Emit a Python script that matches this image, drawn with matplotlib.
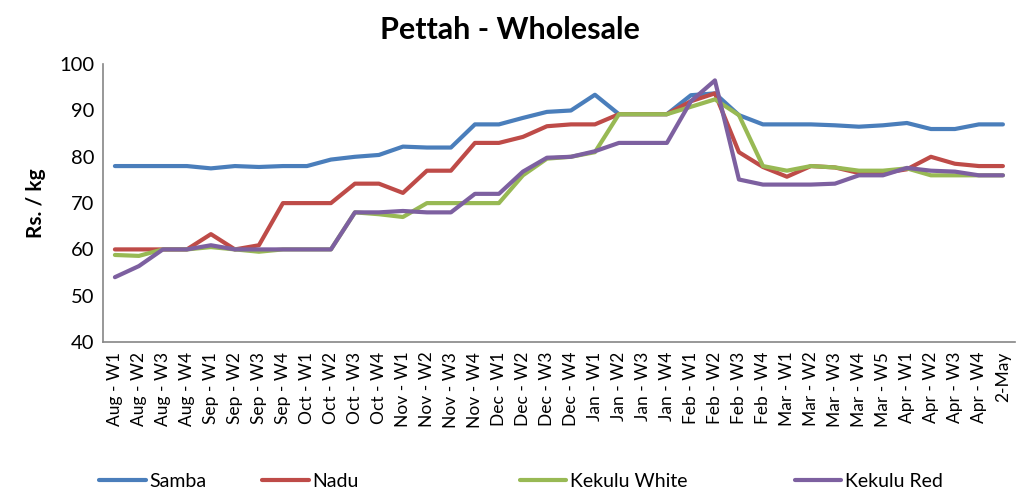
import matplotlib
matplotlib.use("Agg")
import matplotlib.pyplot as plt
from matplotlib.lines import Line2D

plt.rcParams['font.family'] = ['Lato', 'DejaVu Sans']

weeks = ["Aug - W1", "Aug - W2", "Aug - W3", "Aug - W4",
         "Sep - W1", "Sep - W2", "Sep - W3", "Sep - W4",
         "Oct - W1", "Oct - W2", "Oct - W3", "Oct - W4",
         "Nov - W1", "Nov - W2", "Nov - W3", "Nov - W4",
         "Dec - W1", "Dec - W2", "Dec - W3", "Dec - W4",
         "Jan - W1", "Jan - W2", "Jan - W3", "Jan - W4",
         "Feb - W1", "Feb - W2", "Feb - W3", "Feb - W4",
         "Mar - W1", "Mar - W2", "Mar - W3", "Mar - W4", "Mar - W5",
         "Apr - W1", "Apr - W2", "Apr - W3", "Apr - W4", "2-May"]

samba = [78, 78, 78, 78, 77.5, 78, 77.8, 78, 78, 79.4, 80, 80.4,
         82.2, 82, 82, 87, 87, 88.4, 89.7, 90, 93.4, 89.2, 89.2, 89.2,
         93.3, 93.7, 89, 87, 87, 87, 86.8, 86.5, 86.8, 87.3, 86, 86, 87, 87]
nadu = [60, 60, 60, 60, 63.3, 60, 60.9, 70, 70, 70, 74.2, 74.2,
        72.2, 77, 77, 83, 83, 84.3, 86.6, 87, 87, 89.2, 89.2, 89.2,
        92, 93.7, 81, 77.8, 75.7, 78, 77.7, 76.5, 76.5, 77.3, 80, 78.5, 78, 78]
kekulu_white = [58.8, 58.6, 60, 60, 60.5, 60, 59.5, 60, 60, 60, 68, 67.6,
                67, 70, 70, 70, 70, 76, 79.6, 80, 81, 89.2, 89.2, 89.2,
                90.8, 92.4, 89, 78, 77, 78, 77.7, 77, 77, 77.5, 76, 76, 76, 76]
kekulu_red = [54, 56.4, 60, 60, 60.9, 60, 60, 60, 60, 60, 68, 68,
              68.3, 68, 68, 72, 72, 76.8, 79.8, 80, 81.2, 83, 83, 83,
              92, 96.5, 75.1, 74, 74, 74, 74.2, 76, 76, 77.6, 77, 76.8, 76, 76]

series = [("Samba", samba, "#4A7EBB"),
          ("Nadu", nadu, "#BE4B48"),
          ("Kekulu White", kekulu_white, "#98B954"),
          ("Kekulu Red", kekulu_red, "#7D60A0")]

fig = plt.figure(figsize=(10.19, 4.9), dpi=100)
ax = fig.add_axes([0.101, 0.302, 0.895, 0.567])

x = range(len(weeks))
for name, vals, col in series:
    ax.plot(x, vals, color=col, lw=3, solid_capstyle='round', solid_joinstyle='round')

ax.set_xlim(-0.5, len(weeks) - 0.5)
ax.set_ylim(40, 100)
ax.set_yticks(range(40, 101, 10))
ax.set_xticks(list(x))
ax.set_xticklabels(weeks, rotation=90, fontsize=12.5)
ax.tick_params(axis='y', labelsize=14.5, length=0, pad=6)
ax.tick_params(axis='x', length=0, pad=7)
for s in ['top', 'right']:
    ax.spines[s].set_visible(False)
for s in ['left', 'bottom']:
    ax.spines[s].set_color('#868686')
    ax.spines[s].set_linewidth(1.2)

ax.set_ylabel("Rs. / kg", fontsize=15, fontweight='bold', labelpad=10)
fig.text(0.5, 0.938, "Pettah - Wholesale", ha='center', va='center',
         fontsize=22, fontweight='bold')

# legend entries placed like the original
legend_x = [0.097, 0.257, 0.510, 0.780]
for (name, vals, col), lx in zip(series, legend_x):
    h = Line2D([], [], color=col, lw=3, solid_capstyle='round')
    fig.legend([h], [name], loc='center left', bbox_to_anchor=(lx, 0.018),
               frameon=False, fontsize=14, handlelength=2.4, handletextpad=0.2,
               borderaxespad=0, borderpad=0)

fig.savefig("out.png", dpi=100)
